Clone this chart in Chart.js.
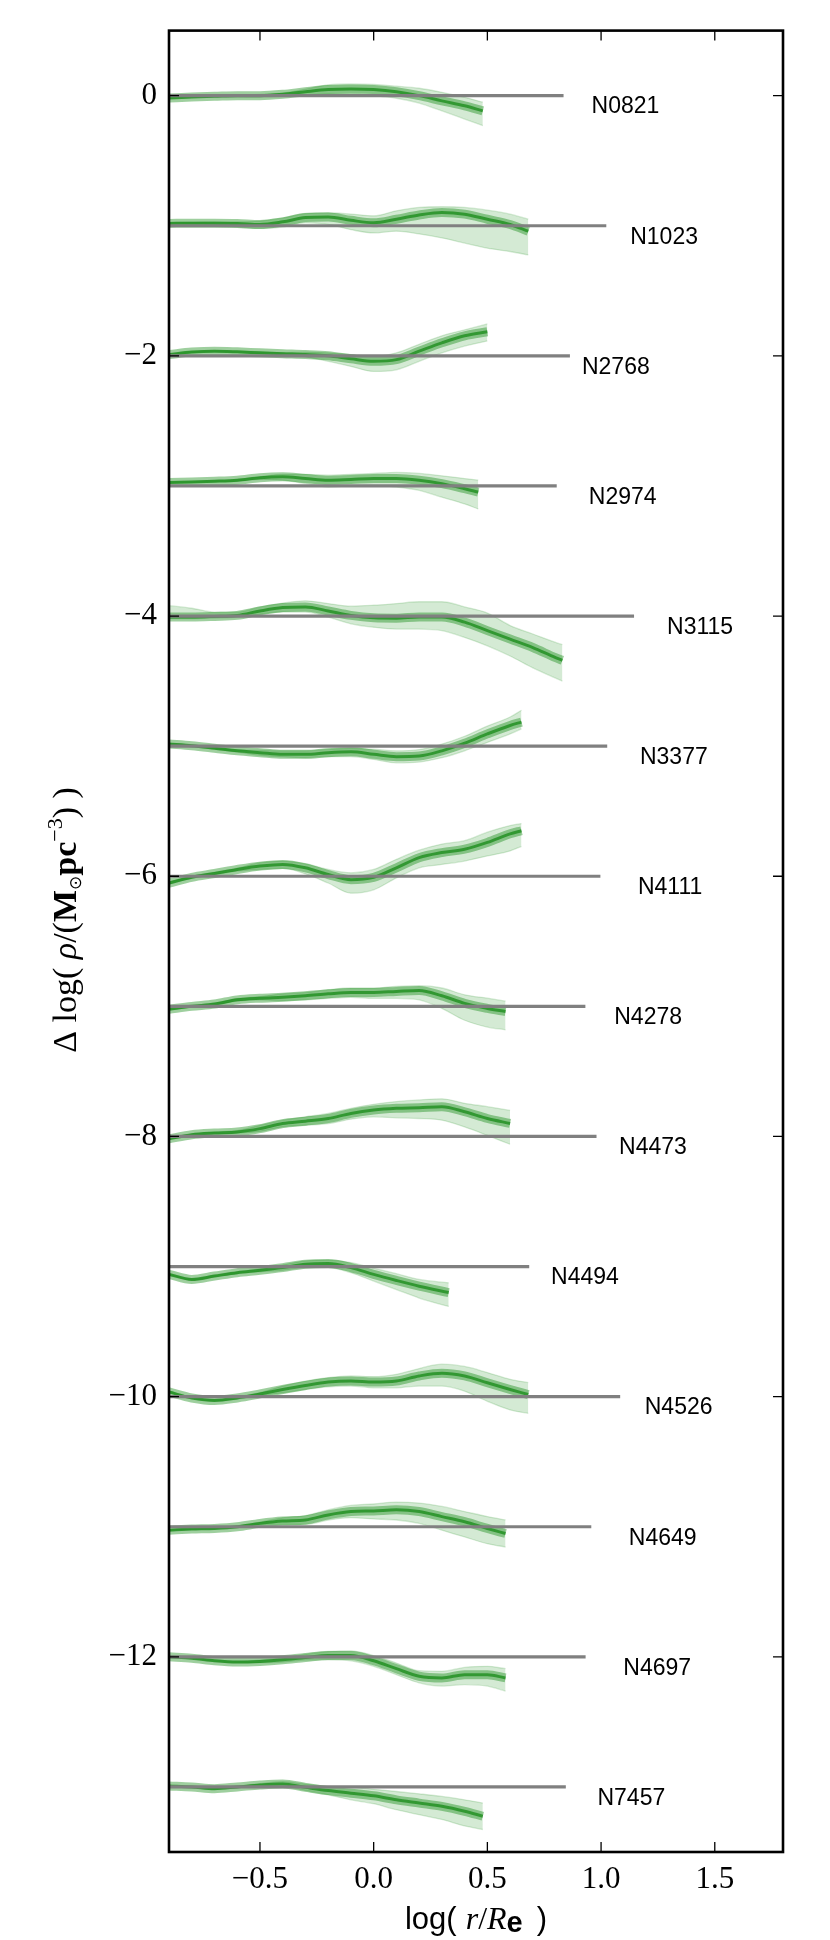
<!DOCTYPE html>
<html>
<head>
<meta charset="utf-8">
<script src="https://cdn.jsdelivr.net/npm/chart.js@4.4.1/dist/chart.umd.min.js"></script>
<style>
html,body{margin:0;padding:0;background:#fff;}
canvas{display:block;}
</style>
</head>
<body>
<canvas id="c" width="830" height="1940"></canvas>
<script>
// ---------------- DATA ----------------
const galaxies = ['N0821','N1023','N2768','N2974','N3115','N3377','N4111','N4278','N4473','N4494','N4526','N4649','N4697','N7457'];
const baseLevels = [0,-1,-2,-3,-4,-5,-6,-7,-8,-9,-10,-11,-12,-13];
const radii = [-0.9,-0.8,-0.7,-0.6,-0.5,-0.4,-0.3,-0.2,-0.1,0.0,0.1,0.2,0.3,0.4,0.5,0.6,0.7,0.8];
// last value of each curve sits at curveEnd, the others on the radii grid
const curveEnd = [0.48,0.68,0.5,0.46,0.83,0.65,0.65,0.58,0.6,0.33,0.68,0.58,0.58,0.48];
const midCurves = [
  [-0.018,-0.01,-0.005,0,0,0.01,0.03,0.047,0.052,0.047,0.03,0,-0.04,-0.078,-0.117],
  [0.018,0.02,0.02,0.018,0.01,0.03,0.063,0.068,0.042,0.023,0.05,0.083,0.102,0.089,0.05,0.01,-0.042],
  [0.01,0.029,0.036,0.031,0.023,0.016,0.01,0,-0.023,-0.042,-0.029,0.036,0.1,0.154,0.185],
  [0.026,0.031,0.036,0.044,0.063,0.07,0.057,0.044,0.05,0.057,0.057,0.044,0.018,-0.021,-0.047],
  [-0.008,-0.008,-0.003,0.005,0.039,0.065,0.07,0.039,0.005,-0.013,-0.016,-0.008,-0.008,-0.047,-0.112,-0.177,-0.242,-0.32,-0.34],
  [0.016,0.003,-0.016,-0.036,-0.05,-0.063,-0.063,-0.05,-0.044,-0.063,-0.081,-0.076,-0.036,0.023,0.094,0.159,0.185],
  [-0.052,-0.008,0.021,0.052,0.078,0.091,0.065,0.013,-0.026,-0.008,0.065,0.143,0.182,0.208,0.26,0.326,0.35],
  [-0.023,0,0.018,0.05,0.063,0.07,0.081,0.096,0.107,0.107,0.115,0.122,0.081,0.023,-0.016,-0.04],
  [-0.018,0.013,0.026,0.034,0.06,0.099,0.117,0.138,0.177,0.203,0.216,0.221,0.229,0.19,0.138,0.1],
  [-0.06,-0.099,-0.073,-0.047,-0.029,-0.008,0.018,0.023,-0.008,-0.06,-0.107,-0.151,-0.2],
  [0.036,-0.01,-0.029,-0.01,0.021,0.055,0.086,0.112,0.12,0.112,0.12,0.159,0.18,0.159,0.107,0.055,0.016],
  [-0.026,-0.018,-0.013,0,0.026,0.044,0.052,0.091,0.117,0.122,0.13,0.117,0.078,0.039,-0.013,-0.052],
  [0,-0.01,-0.03,-0.04,-0.035,-0.023,-0.005,0.01,0.01,-0.03,-0.091,-0.149,-0.162,-0.137,-0.137,-0.162],
  [0.008,0,-0.013,0,0.015,0.023,-0.003,-0.028,-0.048,-0.068,-0.099,-0.124,-0.149,-0.187,-0.225]
];
const lowCurves = [
  [-0.025,-0.015,-0.01,-0.008,-0.01,-0.005,0.005,0.013,0.013,0,-0.02,-0.057,-0.117,-0.18,-0.23],
  [0.01,0.012,0.01,-0.01,-0.02,-0.01,0.023,0.01,-0.03,-0.055,-0.042,-0.063,-0.094,-0.133,-0.172,-0.198,-0.224],
  [0.005,0.022,0.03,0.025,0.015,0.005,-0.008,-0.042,-0.081,-0.12,-0.107,-0.042,0.023,0.075,0.115],
  [0.02,0.025,0.03,0.035,0.05,0.044,0.018,-0.008,0,0.005,-0.008,-0.034,-0.086,-0.138,-0.177],
  [-0.02,-0.02,-0.015,-0.008,0.013,0.031,0.031,-0.008,-0.06,-0.086,-0.1,-0.1,-0.112,-0.164,-0.229,-0.307,-0.398,-0.477,-0.5],
  [0.01,-0.003,-0.022,-0.045,-0.07,-0.083,-0.089,-0.08,-0.08,-0.102,-0.128,-0.122,-0.089,-0.036,0.029,0.094,0.133],
  [-0.06,-0.015,0.012,0.04,0.052,0.06,0.018,-0.052,-0.13,-0.104,-0.013,0.065,0.091,0.117,0.156,0.195,0.23],
  [-0.03,-0.006,0.01,0.04,0.05,0.044,0.05,0.062,0.07,0.062,0.062,0.05,-0.016,-0.107,-0.159,-0.18],
  [-0.025,0.005,0.018,0.025,0.039,0.073,0.086,0.099,0.133,0.151,0.143,0.138,0.125,0.073,0.008,-0.06],
  [-0.065,-0.105,-0.08,-0.055,-0.04,-0.029,-0.008,-0.008,-0.047,-0.112,-0.177,-0.242,-0.307],
  [0.03,-0.016,-0.035,-0.018,0.01,0.029,0.055,0.076,0.081,0.068,0.068,0.081,0.081,0.042,-0.036,-0.102,-0.128],
  [-0.03,-0.022,-0.018,-0.006,0.015,0.018,0.018,0.052,0.07,0.06,0.052,0.026,-0.026,-0.078,-0.13,-0.156],
  [-0.005,-0.015,-0.036,-0.047,-0.045,-0.04,-0.025,-0.023,-0.03,-0.073,-0.137,-0.2,-0.225,-0.213,-0.225,-0.263],
  [0.003,-0.005,-0.018,-0.006,0.005,0.005,-0.028,-0.061,-0.099,-0.129,-0.175,-0.213,-0.25,-0.3,-0.327]
];
const highCurves = [
  [-0.01,-0.005,0,0.005,0.01,0.02,0.05,0.083,0.09,0.086,0.073,0.057,0.026,-0.013,-0.05],
  [0.025,0.028,0.03,0.03,0.036,0.06,0.094,0.1,0.09,0.076,0.115,0.141,0.146,0.141,0.12,0.089,0.05],
  [0.015,0.035,0.042,0.038,0.03,0.025,0.029,0.023,0.01,-0.003,0.023,0.089,0.154,0.2,0.245],
  [0.032,0.037,0.042,0.05,0.07,0.089,0.089,0.083,0.089,0.096,0.104,0.096,0.078,0.057,0.044],
  [0.08,0.06,0.03,0.03,0.07,0.1,0.117,0.096,0.076,0.083,0.096,0.11,0.11,0.07,0.023,-0.073,-0.138,-0.203,-0.22],
  [0.022,0.01,-0.01,-0.028,-0.031,-0.036,-0.036,-0.023,-0.016,-0.023,-0.036,-0.026,0.016,0.076,0.154,0.224,0.276],
  [-0.045,0,0.03,0.062,0.104,0.117,0.096,0.052,0.026,0.052,0.13,0.2,0.247,0.273,0.339,0.39,0.405],
  [-0.015,0.006,0.025,0.06,0.075,0.096,0.107,0.128,0.141,0.141,0.154,0.159,0.141,0.089,0.063,0.04],
  [-0.01,0.02,0.034,0.045,0.086,0.125,0.151,0.177,0.216,0.247,0.268,0.281,0.289,0.255,0.229,0.2],
  [-0.055,-0.093,-0.066,-0.04,-0.018,0.013,0.044,0.05,0.031,-0.013,-0.055,-0.099,-0.125],
  [0.042,-0.004,-0.023,-0.002,0.03,0.081,0.12,0.146,0.159,0.154,0.172,0.216,0.25,0.232,0.185,0.133,0.107],
  [-0.022,-0.014,-0.008,0.006,0.035,0.07,0.086,0.13,0.164,0.175,0.19,0.182,0.156,0.117,0.078,0.052],
  [0.005,-0.005,-0.024,-0.033,-0.025,-0.008,0.02,0.041,0.046,0.01,-0.048,-0.106,-0.111,-0.081,-0.073,-0.091],
  [0.013,0.005,-0.008,0.006,0.025,0.04,0.022,0.005,0,-0.018,-0.035,-0.053,-0.073,-0.099,-0.124]
];
const refLineEnd = [0.835,1.023,0.863,0.805,1.145,1.027,0.997,0.931,0.98,0.684,1.084,0.957,0.932,0.845];
const labelX = [0.958,1.128,0.916,0.946,1.29,1.171,1.162,1.058,1.079,0.78,1.192,1.122,1.098,0.984];
const labelDrop = 0.088;
const xTicks = [-0.5,0.0,0.5,1.0,1.5];
const yTicks = [0,-2,-4,-6,-8,-10,-12];
const xRange = [-0.9,1.8];
const yRange = [-13.5,0.5];

// ---------------- BUILD ----------------
function pts(i, arr){
  const n = arr.length;
  return arr.map((v,k)=>({x: k===n-1 ? curveEnd[i] : radii[k], y: baseLevels[i] + v}));
}
const G = (a)=>'rgba(0,128,0,'+a+')';
const datasets = [];
galaxies.forEach((g,i)=>{
  datasets.push({label:g+' ref', data:[{x:xRange[0],y:baseLevels[i]},{x:refLineEnd[i],y:baseLevels[i]}],
    borderColor:'#808080', borderWidth:3.2, pointRadius:0, fill:false, order:0});
  datasets.push({label:g+' lo', data:pts(i, lowCurves[i]), borderColor:G(0.16), borderWidth:1.3,
    pointRadius:0, fill:false, order:4, cubicInterpolationMode:'monotone'});
  datasets.push({label:g+' hi', data:pts(i, highCurves[i]), borderColor:G(0.16), borderWidth:1.3,
    backgroundColor:G(0.17), pointRadius:0, fill:'-1', order:4, cubicInterpolationMode:'monotone'});
  datasets.push({label:g+' core', data:pts(i, midCurves[i]), borderColor:G(0.38), borderWidth:9,
    pointRadius:0, fill:false, order:3, cubicInterpolationMode:'monotone'});
  datasets.push({label:g+' mid', data:pts(i, midCurves[i]), borderColor:G(0.62), borderWidth:3,
    pointRadius:0, fill:false, order:2, cubicInterpolationMode:'monotone'});
});

const fmt = (v, d)=>{ const s = Math.abs(v).toFixed(d); return (v < -1e-9 ? '\u2212' : '') + s; };

function drawRuns(ctx, runs, cx, cy, rot){
  let total = 0;
  runs.forEach(r=>{ ctx.font = r.f; r.w = ctx.measureText(r.t).width; total += r.w + (r.gap||0); });
  ctx.save();
  ctx.translate(cx, cy);
  if (rot) ctx.rotate(rot);
  ctx.textBaseline = 'alphabetic';
  ctx.textAlign = 'left';
  ctx.fillStyle = '#000';
  let x = -total/2;
  runs.forEach(r=>{ ctx.font = r.f; ctx.fillText(r.t, x, r.dy||0); x += r.w + (r.gap||0); });
  ctx.restore();
}

const decor = {
  id:'decor',
  afterDraw(chart){
    const ctx = chart.ctx, a = chart.chartArea;
    const xs = chart.scales.x, ys = chart.scales.y;
    ctx.save();
    // inward ticks
    ctx.strokeStyle = '#000'; ctx.lineWidth = 1.3;
    ctx.beginPath();
    xs.ticks.forEach(t=>{ const p = xs.getPixelForValue(t.value);
      ctx.moveTo(p, a.bottom); ctx.lineTo(p, a.bottom-10);
      ctx.moveTo(p, a.top); ctx.lineTo(p, a.top+10); });
    ys.ticks.forEach(t=>{ const p = ys.getPixelForValue(t.value);
      ctx.moveTo(a.left, p); ctx.lineTo(a.left+10, p);
      ctx.moveTo(a.right, p); ctx.lineTo(a.right-10, p); });
    ctx.stroke();
    // frame
    ctx.lineWidth = 2.6;
    ctx.strokeRect(a.left, a.top, a.right-a.left, a.bottom-a.top);
    // galaxy labels
    ctx.fillStyle = '#000';
    ctx.font = '23px "Liberation Sans", Arial, sans-serif';
    ctx.textBaseline = 'middle'; ctx.textAlign = 'left';
    galaxies.forEach((g,i)=>{
      ctx.fillText(g, xs.getPixelForValue(labelX[i]), ys.getPixelForValue(baseLevels[i]-labelDrop));
    });
    ctx.restore();
    // x title
    const sans = '"Liberation Sans", Arial, sans-serif', serif = '"Liberation Serif", "DejaVu Serif", serif';
    drawRuns(ctx, [
      {t:'log(', f:'31px '+sans, gap:9},
      {t:'r', f:'italic 32px '+serif},
      {t:'/', f:'32px '+serif},
      {t:'R', f:'italic 32px '+serif},
      {t:'e', f:'bold 29px '+sans, dy:3, gap:14},
      {t:')', f:'31px '+sans}
    ], (a.left+a.right)/2, 1929, 0);
    // y title
    drawRuns(ctx, [
      {t:'\u0394 log( ', f:'34px '+serif},
      {t:'\u03c1', f:'italic 34px '+serif},
      {t:'/(', f:'34px '+serif},
      {t:'M', f:'bold 34px '+serif},
      {t:'\u2299', f:'17px "DejaVu Sans", sans-serif', dy:5},
      {t:'pc', f:'bold 34px '+serif},
      {t:'\u22123', f:'22px '+serif, dy:-14},
      {t:')', f:'34px '+serif},
      {t:' )', f:'34px '+serif}
    ], 76, 920, -Math.PI/2);
  }
};

new Chart(document.getElementById('c'), {
  type:'line',
  data:{datasets},
  options:{
    responsive:false, animation:false, devicePixelRatio:1,
    layout:{padding:{top:3,right:47,left:0,bottom:0}},
    plugins:{legend:{display:false}, tooltip:{enabled:false}},
    elements:{line:{borderCapStyle:'butt'}},
    scales:{
      x:{type:'linear', min:xRange[0], max:xRange[1],
        afterBuildTicks:(s)=>{ s.ticks = xTicks.map(v=>({value:v})); },
        afterFit:(s)=>{ s.height = 88; },
        grid:{display:false, drawTicks:false}, border:{display:false},
        ticks:{autoSkip:false, maxRotation:0, padding:9, color:'#000',
          font:{family:'"Liberation Serif", serif', size:31, lineHeight:1.2},
          callback:(v)=>fmt(v,1)}},
      y:{type:'linear', min:yRange[0], max:yRange[1],
        afterBuildTicks:(s)=>{ s.ticks = yTicks.map(v=>({value:v})); },
        afterFit:(s)=>{ s.width = 169; },
        grid:{display:false, drawTicks:false}, border:{display:false},
        ticks:{autoSkip:false, padding:12, color:'#000',
          font:{family:'"Liberation Serif", serif', size:31, lineHeight:1.2},
          callback:(v)=>fmt(v,0)}}
    }
  },
  plugins:[decor]
});
</script>
</body>
</html>
